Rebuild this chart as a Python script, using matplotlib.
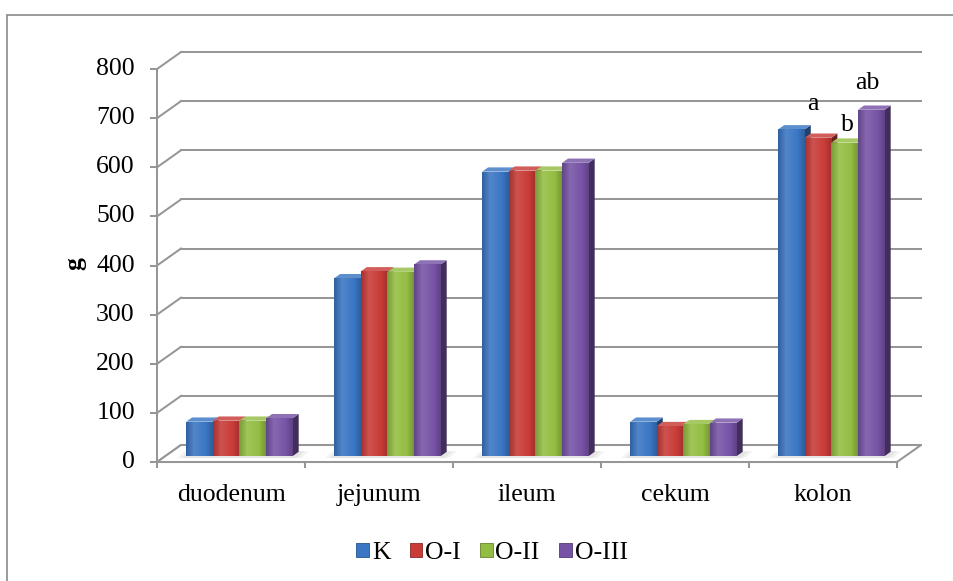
import numpy as np
import matplotlib
matplotlib.use("Agg")
import matplotlib.pyplot as plt
from matplotlib.colors import LinearSegmentedColormap, to_rgb
from matplotlib.patches import Polygon, Patch, Rectangle

segments = ["duodenum", "jejunum", "ileum", "cekum", "kolon"]
groups = ["K", "O-I", "O-II", "O-III"]
k_vals = [70, 362, 579, 70, 665]
o1_vals = [72, 376, 581, 61, 648]
o2_vals = [72, 375, 581, 65, 638]
o3_vals = [77, 390, 597, 68, 705]
y_ticks = [0, 100, 200, 300, 400, 500, 600, 700, 800]
kolon_marks = ["", "a", "b", "ab"]

series = [k_vals, o1_vals, o2_vals, o3_vals]
colors = ["#3a76c4", "#c83b37", "#93bd42", "#7753a6"]

plt.rcParams["font.family"] = ["Liberation Serif", "DejaVu Serif"]
FS = 18.5
GRID = "#969696"
LW = 1.45

fig = plt.figure(figsize=(9.54, 5.81), dpi=100)
ax = fig.add_axes([0, 0, 1, 1])
ax.set_axis_off()
XL = (-1.561, 4.885)
YL = (-242.2, 940.5)

# outer chart frame
fig.patches.append(Rectangle((7 / 954, -0.05), 1.2, 1 - 15 / 581 + 0.05,
                             transform=fig.transFigure, fill=False,
                             ec="#8a8a8a", lw=1.2))

# oblique depth of the plot box (category units, value units)
DX, DY = 0.162, 34.6
x0, x1 = -0.5, len(segments) - 0.5

# back wall gridlines + left wall diagonals
for v in y_ticks:
    ax.plot([x0 + DX, x1 + DX], [v + DY, v + DY], color=GRID, lw=LW, zorder=1)
    ax.plot([x0, x0 + DX], [v, v + DY], color=GRID, lw=LW, zorder=1)
    ax.plot([x0 - 0.04, x0], [v, v], color=GRID, lw=LW, zorder=1)
    ax.text(x0 - 0.15, v, str(v), ha="right", va="center", fontsize=FS)

# floor
ax.add_patch(Polygon([[x0, 0], [x1, 0], [x1 + DX, DY], [x0 + DX, DY]],
                     closed=True, fc="white", ec=GRID, lw=LW, zorder=1))
ax.plot([x0, x0], [0, y_ticks[-1]], color=GRID, lw=LW, zorder=2)
ax.plot([x0, x1], [0, 0], color=GRID, lw=LW, zorder=2)
for b in np.arange(x0, x1 + 0.01, 1.0):
    ax.plot([b, b], [0, -11], color=GRID, lw=LW, zorder=2)

W = 0.18
f0, fd = 0.35, 0.25  # bar front depth and bar depth as fraction of box

# soft shadows under each group
for i in range(len(segments)):
    gl = i - 2 * W + f0 * DX
    gr = i + 2 * W + f0 * DX
    for k, a in ((0.06, 0.25), (0.03, 0.35)):
        ax.add_patch(Polygon([[gl - k, f0 * DY - 4], [gr + k, f0 * DY - 4],
                              [gr + k + 0.05, f0 * DY + 10],
                              [gl - k + 0.05, f0 * DY + 10]],
                             closed=True, fc="#cfcfcf", ec="none", alpha=a,
                             zorder=2))


def shade(c, k):
    r = np.array(to_rgb(c))
    if k >= 1:
        return tuple(r + (1 - r) * (k - 1))
    return tuple(r * k)


for j, (vals, c) in enumerate(zip(series, colors)):
    cmap = LinearSegmentedColormap.from_list(
        "g%d" % j, [(0, shade(c, 0.82)), (0.3, shade(c, 1.12)),
                    (0.75, c), (1, shade(c, 0.8))])
    xs = np.arange(len(segments)) + (j - 1.5) * W + f0 * DX
    bars = ax.bar(xs, vals, width=W, bottom=f0 * DY, color=c,
                  zorder=10 + 3 * j)
    for xc, v, bar in zip(xs, vals, bars):
        xl, xr = xc - W / 2, xc + W / 2
        yb, yt = f0 * DY, f0 * DY + v
        ddx, ddy = fd * DX, fd * DY
        ax.add_patch(Polygon([[xr, yb], [xr + ddx, yb + ddy],
                              [xr + ddx, yt + ddy], [xr, yt]], closed=True,
                             fc=shade(c, 0.55), ec="none", zorder=9 + 3 * j))
        ax.add_patch(Polygon([[xl, yt], [xr, yt], [xr + ddx, yt + ddy],
                              [xl + ddx, yt + ddy]], closed=True,
                             fc=shade(c, 1.18), ec="none", zorder=9 + 3 * j))
        im = ax.imshow(np.linspace(0, 1, 64).reshape(1, -1), cmap=cmap,
                       extent=(xl, xr, yb, yt), aspect="auto",
                       zorder=10 + 3 * j + 0.5)
        im.set_clip_path(bar)

    if kolon_marks[j]:
        k = len(segments) - 1
        off = {1: (-4, 21), 2: (2, 10), 3: (-3, 16)}[j]
        ax.annotate(kolon_marks[j], xy=(xs[k], f0 * DY + vals[k] + fd * DY),
                    xytext=off, textcoords="offset points", ha="center",
                    va="center", fontsize=FS, zorder=30)

for i, name in enumerate(segments):
    ax.text(i, -67, name, ha="center", va="center", fontsize=FS)

ax.text(-1.054, 405, "g", rotation=90, ha="center", va="center",
        fontsize=FS, fontweight="bold")

handles = [Patch(fc=c, ec=shade(c, 0.7), lw=0.6) for c in colors]
fig.legend(handles, groups, loc="center", bbox_to_anchor=(492 / 954, 1 - 553 / 581),
           ncol=4, frameon=False, fontsize=FS, handlelength=0.5,
           handleheight=0.5, handletextpad=0.1, columnspacing=0.75,
           borderpad=0)

ax.set_xlim(*XL)
ax.set_ylim(*YL)
fig.savefig("out.png", dpi=100)
